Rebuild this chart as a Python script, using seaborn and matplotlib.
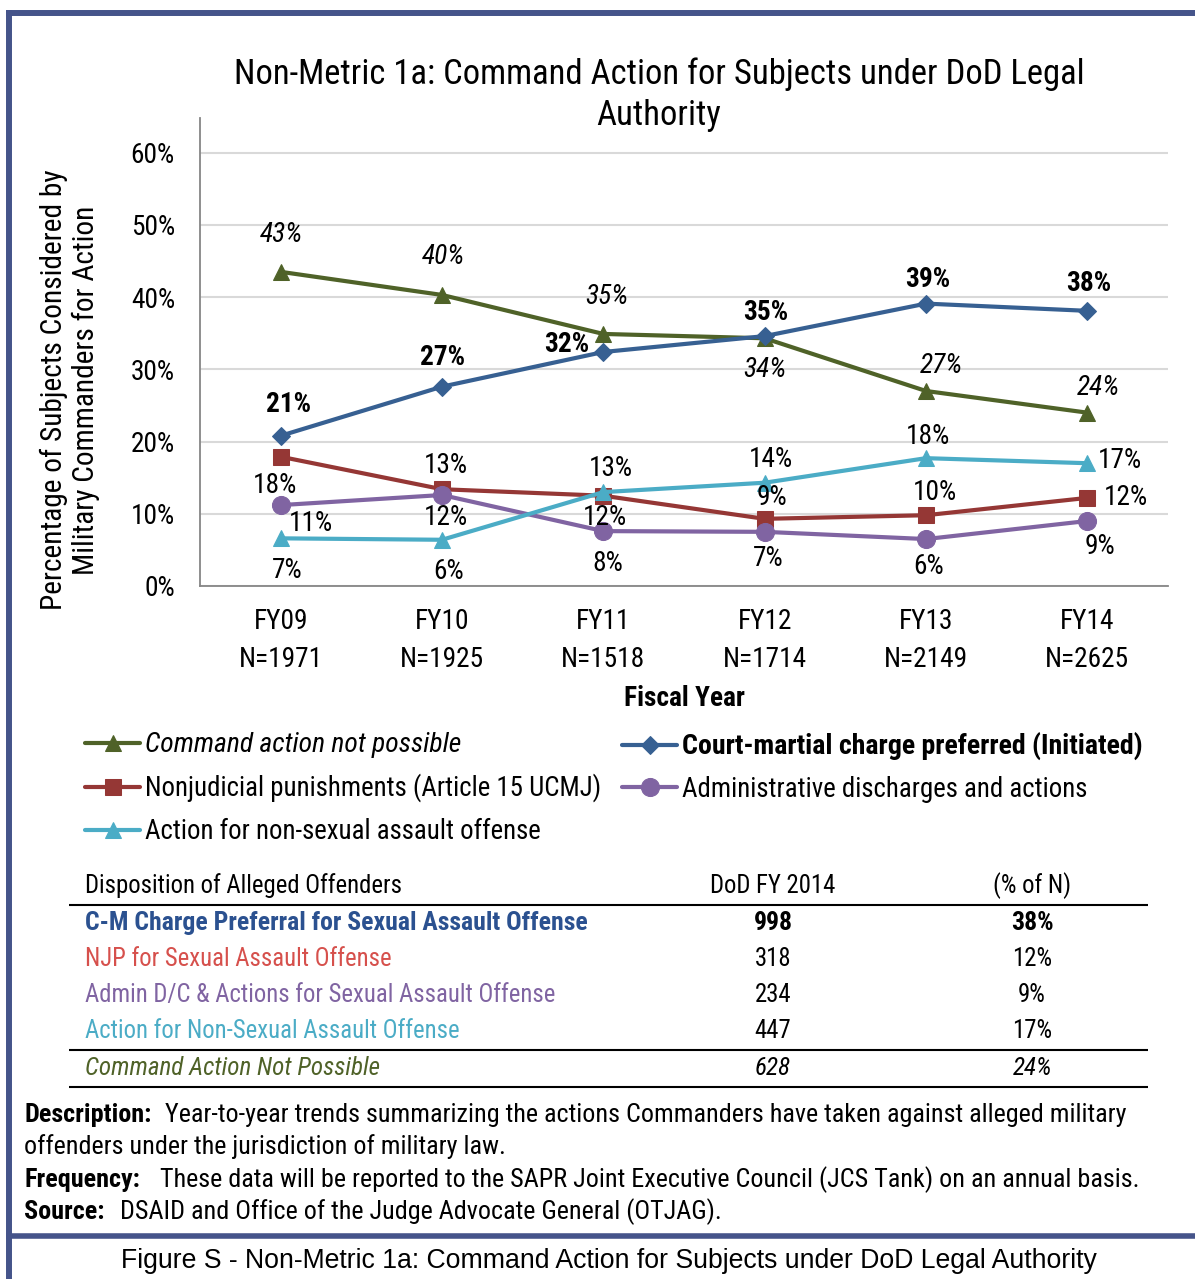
import matplotlib
matplotlib.use('Agg')
import matplotlib.pyplot as plt
from matplotlib import font_manager as fm
from matplotlib.lines import Line2D
from matplotlib.ticker import PercentFormatter, FixedLocator
import seaborn as sns

sns.set_style('white')

# pick a narrow sans if there is one, else an Arial-like one
names = {f.name for f in fm.fontManager.ttflist}
FONT = 'DejaVu Sans'
for n in ['Liberation Sans Narrow', 'Arial Narrow', 'Roboto Condensed', 'Open Sans Condensed', 'Liberation Sans']:
    if n in names:
        FONT = n
        break
plt.rcParams['font.family'] = [FONT, 'DejaVu Sans']
for k in ['text.color', 'axes.labelcolor', 'xtick.color', 'ytick.color']:
    plt.rcParams[k] = 'black'

# data
years = ['FY09', 'FY10', 'FY11', 'FY12', 'FY13', 'FY14']
n_counts = [1971, 1925, 1518, 1714, 2149, 2625]

not_possible = [43.5, 40.3, 34.9, 34.3, 27.0, 24.0]
court_martial = [20.8, 27.6, 32.4, 34.6, 39.1, 38.1]
njp = [17.9, 13.4, 12.5, 9.3, 9.8, 12.2]
admin = [11.2, 12.6, 7.6, 7.5, 6.5, 9.0]
non_sexual = [6.6, 6.4, 13.0, 14.3, 17.7, 17.0]

not_possible_lbl = ['43%', '40%', '35%', '34%', '27%', '24%']
court_martial_lbl = ['21%', '27%', '32%', '35%', '39%', '38%']
njp_lbl = ['18%', '13%', '12%', '9%', '10%', '12%']
admin_lbl = ['11%', '12%', '8%', '7%', '6%', '9%']
non_sexual_lbl = ['7%', '6%', '13%', '14%', '18%', '17%']

table_rows = ['C-M Charge Preferral for Sexual Assault Offense',
              'NJP for Sexual Assault Offense',
              'Admin D/C & Actions for Sexual Assault Offense',
              'Action for Non-Sexual Assault Offense',
              'Command Action Not Possible']
table_counts = ['998', '318', '234', '447', '628']
table_pcts = ['38%', '12%', '9%', '17%', '24%']

W, H = 1195, 1279
def fx(px):
    return px / W
def fy(py):
    return 1 - py / H

GREEN, BLUE, RED, PURPLE, CYAN = '#4F6228', '#376092', '#953735', '#8064A2', '#4BACC6'
FRAME = '#45548A'

fig = plt.figure(figsize=(11.95, 12.79), dpi=100)
renderer = fig.canvas.get_renderer()

def fit(s, target, **kw):
    # font size that makes s about target pixels wide
    t = fig.text(0, 0, s, fontsize=10, **kw)
    w = t.get_window_extent(renderer).width
    t.remove()
    return 10 * target / w

fs = fit('Nonjudicial punishments (Article 15 UCMJ)', 455)
fs_tick = fit('N=1971', 84)
fs_title = fit('Non-Metric 1a: Command Action for Subjects under DoD Legal', 846)
fs_ylab = fit('Percentage of Subjects Considered by', 438)
fs_tab = fit('Admin D/C & Actions for Sexual Assault Offense', 468)
fs_tab_b = fit('C-M Charge Preferral for Sexual Assault Offense', 502, fontweight='bold')
fs_tab_i = fit('Command Action Not Possible', 295, fontstyle='italic')
fs_desc = fit('Year-to-year trends summarizing the actions Commanders have taken against alleged military', 954)
fs_cap = fit('Figure S - Non-Metric 1a: Command Action for Subjects under DoD Legal Authority', 978,
             family=['Liberation Sans', 'DejaVu Sans'])

ax = fig.add_axes([fx(200), fy(586), fx(1168) - fx(200), (586 - 118) / H])

# name, values, labels, color, marker, markersize, style, weight, label offsets (px)
series = [
    ('Command action not possible', not_possible, not_possible_lbl, GREEN, '^', 12, 'italic', 'normal',
     [(1, 37), (1, 38), (3, 37), (0, -32), (15, 25), (11, 25)]),
    ('Court-martial charge preferred (Initiated)', court_martial, court_martial_lbl, BLUE, 'D', 9, 'normal', 'bold',
     [(8, 31), (1, 29), (-37, 7), (1, 24), (2, 24), (1, 27)]),
    ('Nonjudicial punishments (Article 15 UCMJ)', njp, njp_lbl, RED, 's', 12, 'normal', 'normal',
     [(-6, -29), (4, 24), (2, -22), (7, 21), (9, 23), (39, 0)]),
    ('Administrative discharges and actions', admin, admin_lbl, PURPLE, 'o', 13, 'normal', 'normal',
     [(30, -18), (4, -23), (4, -32), (4, -27), (3, -27), (13, -26)]),
    ('Action for non-sexual assault offense', non_sexual, non_sexual_lbl, CYAN, '^', 12, 'normal', 'normal',
     [(7, -32), (7, -32), (8, 24), (6, 23), (2, 22), (33, 3)]),
]

handles = {}
for name, vals, lbls, col, mk, ms, style, weight, offs in series:
    sns.lineplot(x=years, y=vals, ax=ax, color=col, marker=mk, markersize=ms,
                 markeredgecolor=col, lw=3, sort=False, label=name)
    handles[name] = ax.lines[-1]
    for i, (v, t) in enumerate(zip(vals, lbls)):
        ax.annotate(t, (i, v), xytext=offs[i], textcoords='offset pixels',
                    ha='center', va='center', fontsize=fs_tick, fontstyle=style,
                    fontweight=weight, color='black')

if ax.get_legend() is not None:
    ax.get_legend().remove()

ax.set_xlim(-0.5, 5.5)
ax.set_ylim(0, 64.8)
ax.set_yticks(range(0, 61, 10))
ax.yaxis.set_major_formatter(PercentFormatter(100, decimals=0))
ax.set_xticks(range(6))
ax.set_xticklabels([f'{y}\nN={n}' for y, n in zip(years, n_counts)], linespacing=1.5)
ax.xaxis.set_minor_locator(FixedLocator([i - 0.5 for i in range(7)]))
ax.tick_params(axis='x', which='major', length=0, pad=16, labelsize=fs_tick)
ax.tick_params(axis='x', which='minor', length=7, width=1.3, color='#868686', direction='out')
ax.tick_params(axis='y', length=8, width=1.3, color='#868686', direction='out', pad=10, labelsize=fs_tick)
ax.yaxis.grid(True, color='#D9D9D9', lw=1.5)
ax.xaxis.grid(False)
ax.set_axisbelow(True)
for s in ['top', 'right']:
    ax.spines[s].set_visible(False)
for s in ['left', 'bottom']:
    ax.spines[s].set_color('#868686')
    ax.spines[s].set_linewidth(1.3)
ax.set_xlabel('Fiscal Year', fontsize=fs_tick, fontweight='bold', labelpad=9)
ax.set_ylabel('')

fig.text(fx(659), fy(95), 'Non-Metric 1a: Command Action for Subjects under DoD Legal\nAuthority',
         ha='center', va='center', fontsize=fs_title, linespacing=1.3)
fig.text(fx(70), fy(390), 'Percentage of Subjects Considered by\nMilitary Commanders for Action',
         rotation=90, ha='center', va='center', fontsize=fs_ylab, linespacing=1.2)

# legend in two columns
left_names = [series[0][0], series[2][0], series[4][0]]
right_names = [series[1][0], series[3][0]]
leg_kw = dict(loc='upper left', frameon=False, fontsize=fs, handlelength=55 / (fs * 100 / 72),
              handletextpad=5 / (fs * 100 / 72), labelspacing=0.58, borderpad=0, borderaxespad=0)
leg1 = fig.legend([handles[n] for n in left_names], left_names,
                  bbox_to_anchor=(fx(85), fy(732)), **leg_kw)
leg2 = fig.legend([handles[n] for n in right_names], right_names,
                  bbox_to_anchor=(fx(622), fy(732)), **leg_kw)
leg1.get_texts()[0].set_fontstyle('italic')
leg1.get_texts()[0].set_fontsize(fit('Command action not possible', 316, fontstyle='italic'))
leg2.get_texts()[0].set_fontweight('bold')
leg2.get_texts()[0].set_fontsize(fit('Court-martial charge preferred (Initiated)', 462, fontweight='bold'))

# summary table
def hline(y, x0=69, x1=1148, lw=1.5, color='black'):
    fig.add_artist(Line2D([fx(x0), fx(x1)], [fy(y), fy(y)], transform=fig.transFigure,
                          color=color, lw=lw, solid_capstyle='butt'))

fig.text(fx(85), fy(886), 'Disposition of Alleged Offenders', fontsize=fs_tab, va='center')
fig.text(fx(773), fy(886), 'DoD FY 2014', fontsize=fs_tab, va='center', ha='center')
fig.text(fx(1032), fy(886), '(% of N)', fontsize=fs_tab, va='center', ha='center')
hline(905)
row_y = [923, 959, 995, 1031, 1068]
row_cols = ['#2B5190', '#D6504C', PURPLE, CYAN, GREEN]
row_style = [('normal', 'bold', fs_tab_b), ('normal', 'normal', fs_tab), ('normal', 'normal', fs_tab),
             ('normal', 'normal', fs_tab), ('italic', 'normal', fs_tab_i)]
for y, name, cnt, pct, col, (st, wt, sz) in zip(row_y, table_rows, table_counts, table_pcts, row_cols, row_style):
    fig.text(fx(85), fy(y), name, fontsize=sz, va='center', color=col, fontstyle=st, fontweight=wt)
    fig.text(fx(773), fy(y), cnt, fontsize=sz, va='center', ha='center', fontstyle=st, fontweight=wt)
    fig.text(fx(1032), fy(y), pct, fontsize=sz, va='center', ha='center', fontstyle=st, fontweight=wt)
hline(1050)
hline(1087)

# description block: bold heading, then plain text after it
def heading_line(y, head, body, gap):
    t = fig.text(fx(24), fy(y), head, fontsize=fs_desc, fontweight='bold', va='center')
    x_end = t.get_window_extent(renderer).x1
    fig.text((x_end + gap) / W, fy(y), body, fontsize=fs_desc, va='center')

heading_line(1115, 'Description:', 'Year-to-year trends summarizing the actions Commanders have taken against alleged military', 14)
fig.text(fx(24), fy(1147), 'offenders under the jurisdiction of military law.', fontsize=fs_desc, va='center')
heading_line(1180, 'Frequency:', 'These data will be reported to the SAPR Joint Executive Council (JCS Tank) on an annual basis.', 20)
heading_line(1212, 'Source:', 'DSAID and Office of the Judge Advocate General (OTJAG).', 15)

# frame
hline(13, x0=6, x1=W, lw=4.3, color=FRAME)
hline(1235.5, x0=6, x1=W, lw=4, color=FRAME)
fig.add_artist(Line2D([fx(9), fx(9)], [fy(10), 0], transform=fig.transFigure,
                      color=FRAME, lw=4.3, solid_capstyle='butt'))

fig.text(fx(609), fy(1261), 'Figure S - Non-Metric 1a: Command Action for Subjects under DoD Legal Authority',
         family=['Liberation Sans', 'DejaVu Sans'], fontsize=fs_cap, ha='center', va='center')

fig.savefig('out.png', dpi=100)
